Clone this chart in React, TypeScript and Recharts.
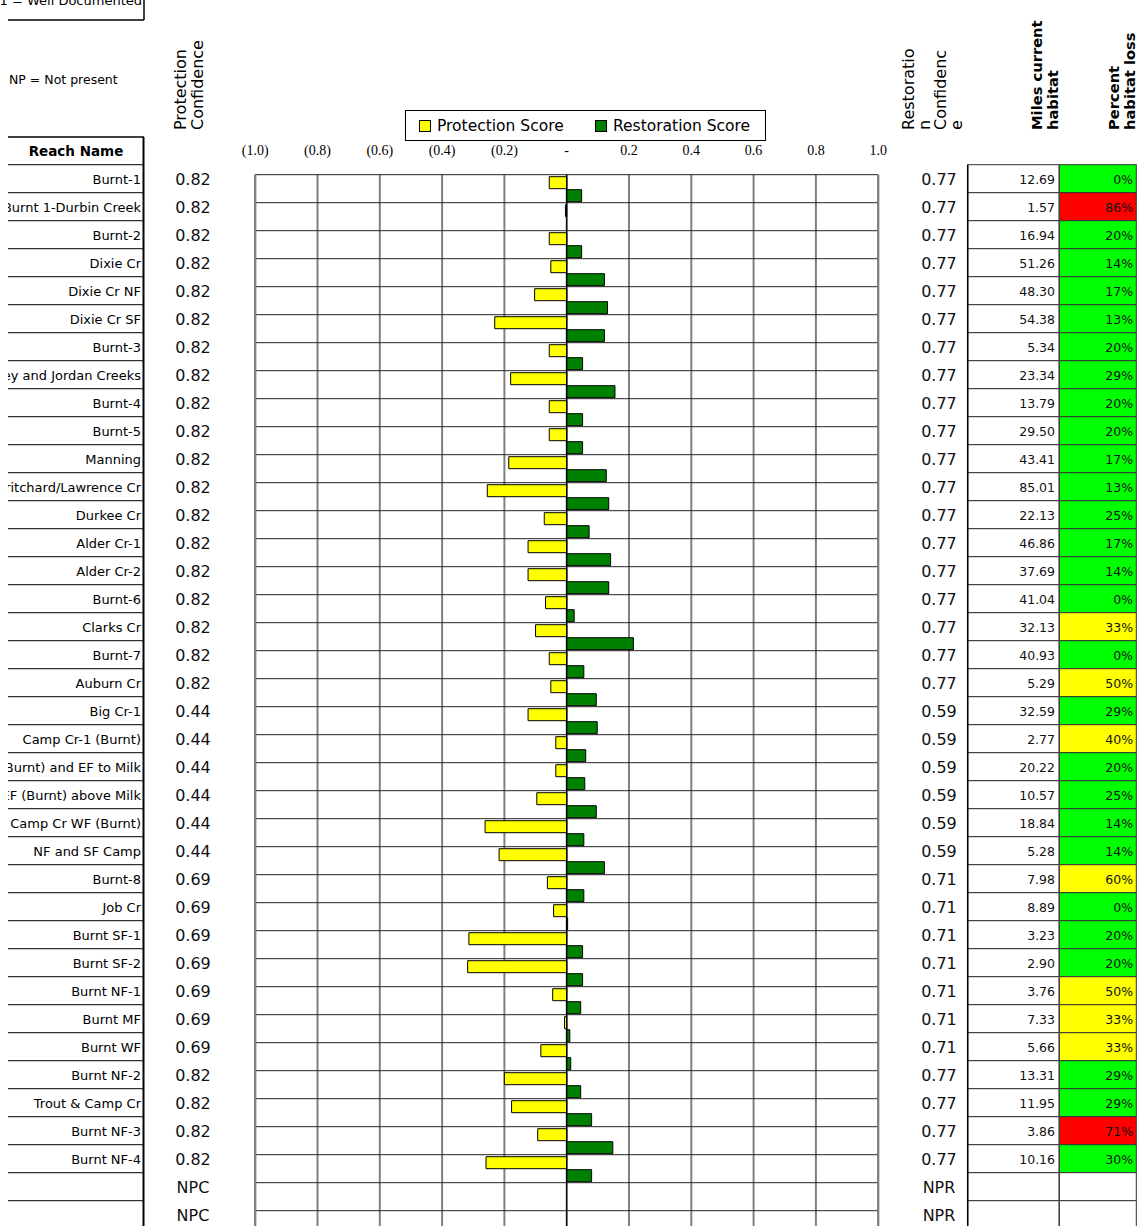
import React from 'react';
import { BarChart, Bar, XAxis, YAxis, CartesianGrid, ReferenceLine, Legend } from 'recharts';

// ---------- data ----------
const reachNames = [
  'Burnt-1', 'Burnt 1-Durbin Creek', 'Burnt-2', 'Dixie Cr', 'Dixie Cr NF', 'Dixie Cr SF', 'Burnt-3',
  'Sisley and Jordan Creeks', 'Burnt-4', 'Burnt-5', 'Manning', 'Pritchard/Lawrence Cr', 'Durkee Cr',
  'Alder Cr-1', 'Alder Cr-2', 'Burnt-6', 'Clarks Cr', 'Burnt-7', 'Auburn Cr', 'Big Cr-1',
  'Camp Cr-1 (Burnt)', 'Camp Cr-2 (Burnt) and EF to Milk', 'Camp Cr EF (Burnt) above Milk',
  'Camp Cr WF (Burnt)', 'NF and SF Camp', 'Burnt-8', 'Job Cr', 'Burnt SF-1', 'Burnt SF-2',
  'Burnt NF-1', 'Burnt MF', 'Burnt WF', 'Burnt NF-2', 'Trout & Camp Cr', 'Burnt NF-3', 'Burnt NF-4',
  '', '',
];

const protectionScore: (number | null)[] = [
  -0.056, -0.004, -0.056, -0.051, -0.103, -0.231, -0.056, -0.18, -0.056, -0.056, -0.186, -0.255,
  -0.072, -0.124, -0.124, -0.068, -0.1, -0.056, -0.051, -0.124, -0.035, -0.035, -0.096, -0.262,
  -0.217, -0.062, -0.042, -0.314, -0.318, -0.045, -0.007, -0.083, -0.2, -0.177, -0.093, -0.259,
  null, null,
];

const restorationScore: (number | null)[] = [
  0.048, 0, 0.048, 0.121, 0.131, 0.121, 0.051, 0.155, 0.051, 0.051, 0.127, 0.135,
  0.072, 0.141, 0.135, 0.024, 0.214, 0.055, 0.095, 0.098, 0.061, 0.058, 0.095, 0.055,
  0.121, 0.055, 0.003, 0.051, 0.051, 0.045, 0.01, 0.013, 0.045, 0.08, 0.148, 0.08,
  null, null,
];

const protectionConfidence = [
  '0.82', '0.82', '0.82', '0.82', '0.82', '0.82', '0.82', '0.82', '0.82', '0.82', '0.82', '0.82',
  '0.82', '0.82', '0.82', '0.82', '0.82', '0.82', '0.82', '0.44', '0.44', '0.44', '0.44', '0.44',
  '0.44', '0.69', '0.69', '0.69', '0.69', '0.69', '0.69', '0.69', '0.82', '0.82', '0.82', '0.82',
  'NPC', 'NPC',
];

const restorationConfidence = [
  '0.77', '0.77', '0.77', '0.77', '0.77', '0.77', '0.77', '0.77', '0.77', '0.77', '0.77', '0.77',
  '0.77', '0.77', '0.77', '0.77', '0.77', '0.77', '0.77', '0.59', '0.59', '0.59', '0.59', '0.59',
  '0.59', '0.71', '0.71', '0.71', '0.71', '0.71', '0.71', '0.71', '0.77', '0.77', '0.77', '0.77',
  'NPR', 'NPR',
];

const milesCurrentHabitat: (string | null)[] = [
  '12.69', '1.57', '16.94', '51.26', '48.30', '54.38', '5.34', '23.34', '13.79', '29.50', '43.41', '85.01',
  '22.13', '46.86', '37.69', '41.04', '32.13', '40.93', '5.29', '32.59', '2.77', '20.22', '10.57', '18.84',
  '5.28', '7.98', '8.89', '3.23', '2.90', '3.76', '7.33', '5.66', '13.31', '11.95', '3.86', '10.16',
  null, null,
];

const percentHabitatLoss: (number | null)[] = [
  0, 86, 20, 14, 17, 13, 20, 29, 20, 20, 17, 13,
  25, 17, 14, 0, 33, 0, 50, 29, 40, 20, 25, 14,
  14, 60, 0, 20, 20, 50, 33, 33, 29, 29, 71, 30,
  null, null,
];

const xTicks = [-1, -0.8, -0.6, -0.4, -0.2, 0, 0.2, 0.4, 0.6, 0.8, 1];

const rows = reachNames.map((name, i) => ({
  id: `row-${i}`,
  name,
  protection: protectionScore[i],
  restoration: restorationScore[i],
}));

// ---------- layout ----------
const SANS = "'DejaVu Sans', sans-serif";
const SERIF = "'Liberation Serif', 'Times New Roman', serif";
const N = reachNames.length;
const ROW_H = 28;
const PLOT_LEFT = 255.2;
const PLOT_RIGHT = 878.2;
const PLOT_TOP = 174.7;
const CHART_W = 1144;
const CHART_H = PLOT_TOP + N * ROW_H + 12;
const X_AXIS_H = 30;
const Y_AXIS_W = 60;
const TABLE_SHIFT = 10; // table rows sit 10px above the chart rows

const lossColor = (v: number | null) => {
  if (v === null) return '#ffffff';
  if (v >= 70) return '#FF0000';
  if (v > 30) return '#FFFF00';
  return '#00FF00';
};

const fmtTick = (v: number) => {
  if (Math.abs(v) < 1e-9) return '-';
  if (v < 0) return `(${Math.abs(v).toFixed(1)})`;
  return v.toFixed(1);
};

const RowTick = (props: any) => {
  const { y } = props;
  const i: number = props.payload?.index ?? props.index ?? 0;
  const top = y - ROW_H / 2 - TABLE_SHIFT;
  const ty = y - 9;
  const pct = percentHabitatLoss[i];
  const miles = milesCurrentHabitat[i];
  return (
    <g>
      <clipPath id={`nameclip-${i}`}>
        <rect x={8} y={top} width={135} height={ROW_H} />
      </clipPath>
      <line x1={8} x2={143} y1={top} y2={top} stroke="#333" strokeWidth={1.3} />
      <text x={141} y={ty} dy="0.35em" textAnchor="end" fontFamily={SANS} fontSize={13} fill="#000"
        clipPath={`url(#nameclip-${i})`}>{reachNames[i]}</text>
      <text x={193} y={ty} dy="0.35em" textAnchor="middle" fontFamily={SANS} fontSize={16} fill="#111">
        {protectionConfidence[i]}
      </text>
      <text x={939} y={ty} dy="0.35em" textAnchor="middle" fontFamily={SANS} fontSize={16} fill="#111">
        {restorationConfidence[i]}
      </text>
      <rect x={967.7} y={top} width={91.6} height={ROW_H} fill="#fff" stroke="#333" strokeWidth={1} />
      <rect x={1059.3} y={top} width={77} height={ROW_H} fill={lossColor(pct)} stroke="#333" strokeWidth={1} />
      {miles !== null && (
        <text x={1055} y={ty} dy="0.35em" textAnchor="end" fontFamily={SANS} fontSize={12.5} fill="#111">{miles}</text>
      )}
      {pct !== null && (
        <text x={1133} y={ty} dy="0.35em" textAnchor="end" fontFamily={SANS} fontSize={12.5} fill="#111">{`${pct}%`}</text>
      )}
    </g>
  );
};

const LegendBox = (props: any) => {
  const items = props.payload || [];
  const lefts = [13, 189];
  return (
    <div style={{ position: 'relative', width: 361, height: 31, border: '1px solid #000', boxSizing: 'border-box', background: '#fff', fontFamily: SANS, fontSize: 15.5, color: '#000' }}>
      {items.map((it: any, k: number) => (
        <div key={k} style={{ position: 'absolute', left: lefts[k] ?? 13, top: 0, height: 29, display: 'flex', alignItems: 'center', whiteSpace: 'nowrap' }}>
          <span style={{ display: 'inline-block', width: 12, height: 12, background: it.color, border: '1px solid #000', boxSizing: 'border-box', marginRight: 6 }} />
          {it.value}
        </div>
      ))}
    </div>
  );
};

const rot = (x: number, y: number) => `translate(${x},${y}) rotate(-90)`;

const Overlay = () => (
  <svg width={1144} height={1226} style={{ position: 'absolute', left: 0, top: 0, pointerEvents: 'none' }}>
    {/* top note box */}
    <line x1={8} x2={144} y1={20} y2={20} stroke="#000" strokeWidth={1.5} />
    <line x1={144} x2={144} y1={0} y2={20} stroke="#000" strokeWidth={1.5} />
    <text x={142} y={5} textAnchor="end" fontFamily={SANS} fontSize={13} fill="#000">1 = Well Documented</text>
    <text x={9} y={80} dy="0.35em" fontFamily={SANS} fontSize={12.5} fill="#000">NP = Not present</text>
    {/* reach name header */}
    <line x1={8} x2={144} y1={137} y2={137} stroke="#000" strokeWidth={1.5} />
    <text x={76} y={151} dy="0.35em" textAnchor="middle" fontFamily={SANS} fontWeight="bold" fontSize={13.5} fill="#000">Reach Name</text>
    <line x1={143.5} x2={143.5} y1={137} y2={1226} stroke="#000" strokeWidth={2} />
    {/* protection confidence header */}
    <text transform={rot(186, 130)} fontFamily={SANS} fontSize={16} fill="#000">Protection</text>
    <text transform={rot(203, 130)} fontFamily={SANS} fontSize={16} fill="#000">Confidence</text>
    {/* restoration confidence header */}
    <text transform={rot(914, 130)} fontFamily={SANS} fontSize={16} fill="#000">Restoratio</text>
    <text transform={rot(930, 130)} fontFamily={SANS} fontSize={16} fill="#000">n</text>
    <text transform={rot(946, 130)} fontFamily={SANS} fontSize={16} fill="#000">Confidenc</text>
    <text transform={rot(962, 130)} fontFamily={SANS} fontSize={16} fill="#000">e</text>
    {/* miles / percent headers */}
    <text transform={rot(1042, 130)} fontFamily={SANS} fontWeight="bold" fontSize={14.7} fill="#000">Miles current</text>
    <text transform={rot(1058, 130)} fontFamily={SANS} fontWeight="bold" fontSize={14.7} fill="#000">habitat</text>
    <text transform={rot(1119, 130)} fontFamily={SANS} fontWeight="bold" fontSize={14.7} fill="#000">Percent</text>
    <text transform={rot(1135, 130)} fontFamily={SANS} fontWeight="bold" fontSize={14.7} fill="#000">habitat loss</text>
    {/* right table verticals */}
    <line x1={967.7} x2={967.7} y1={164.7} y2={1226} stroke="#000" strokeWidth={1.5} />
    <line x1={1059.3} x2={1059.3} y1={164.7} y2={1226} stroke="#444" strokeWidth={1.2} />
  </svg>
);

export default function App() {
  return (
    <div style={{ position: 'absolute', left: 0, top: 0, width: 1144, height: 1226, overflow: 'hidden', background: '#fff' }}>
      <BarChart
        width={CHART_W}
        height={CHART_H}
        data={rows}
        layout="vertical"
        barSize={12}
        barGap={1}
        margin={{
          top: PLOT_TOP - X_AXIS_H,
          left: PLOT_LEFT - Y_AXIS_W,
          right: CHART_W - PLOT_RIGHT,
          bottom: CHART_H - PLOT_TOP - N * ROW_H,
        }}
      >
        <CartesianGrid horizontal={false} vertical stroke="#808080" strokeWidth={2} />
        <CartesianGrid
          vertical={false}
          horizontal
          stroke="#222"
          strokeWidth={1}
          horizontalCoordinatesGenerator={({ offset }: any) =>
            Array.from({ length: N + 1 }, (_, k) => offset.top + (k * offset.height) / N)
          }
        />
        <XAxis
          type="number"
          orientation="top"
          domain={[-1, 1]}
          ticks={xTicks}
          interval={0}
          height={X_AXIS_H}
          axisLine={false}
          tickLine={false}
          tickSize={18}
          tickMargin={2}
          tickFormatter={fmtTick}
          tick={{ fill: '#000', fontSize: 14, fontFamily: SERIF }}
        />
        <YAxis
          type="category"
          dataKey="id"
          width={Y_AXIS_W}
          interval={0}
          axisLine={false}
          tickLine={false}
          tick={(p: any) => <RowTick {...p} />}
        />
        <ReferenceLine x={-1} stroke="#808080" strokeWidth={2} />
        <ReferenceLine x={1} stroke="#808080" strokeWidth={2} />
        <ReferenceLine x={0} stroke="#000" strokeWidth={1.2} />
        <Bar dataKey="protection" name="Protection Score" fill="#FFFF00" stroke="#000" strokeWidth={1} isAnimationActive={false} />
        <Bar dataKey="restoration" name="Restoration Score" fill="#008000" stroke="#000" strokeWidth={1} isAnimationActive={false} />
        <Legend
          layout="horizontal"
          verticalAlign="middle"
          align="center"
          wrapperStyle={{ position: 'absolute', left: 405, top: 110, width: 361, height: 31 }}
          content={(p: any) => <LegendBox {...p} />}
        />
      </BarChart>
      <Overlay />
    </div>
  );
}
